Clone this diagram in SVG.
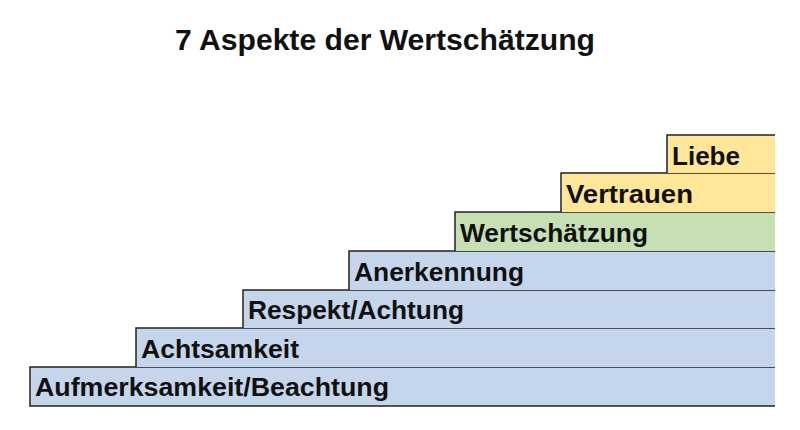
<svg xmlns="http://www.w3.org/2000/svg" width="800" height="430" viewBox="0 0 800 430">
<style>
.b{stroke:#222;stroke-width:1.5;fill:none}
.y{fill:#FFE699}.g{fill:#C6E0B4}.u{fill:#C5D6EC}
text{font-family:"Liberation Sans",Arial,sans-serif;font-weight:bold;fill:#111}
.l{font-size:25px}
</style>
<rect width="800" height="430" fill="#fff"/>
<text x="385" y="50" text-anchor="middle" font-size="30" textLength="420" lengthAdjust="spacingAndGlyphs">7 Aspekte der Wertschätzung</text>
<g id="n1"><rect class="u" x="30" y="367" width="745" height="39"/><path class="b" d="M775 367H30V406H775"/><text class="l" x="35" y="396" textLength="354" lengthAdjust="spacingAndGlyphs">Aufmerksamkeit/Beachtung</text></g>
<g id="n2"><rect class="u" x="136" y="328" width="639" height="39"/><path class="b" d="M775 328H136V367"/><text class="l" x="141" y="358" textLength="158" lengthAdjust="spacingAndGlyphs">Achtsamkeit</text></g>
<g id="n3"><rect class="u" x="243" y="290" width="532" height="38"/><path class="b" d="M775 290H243V328"/><text class="l" x="248" y="319" textLength="216" lengthAdjust="spacingAndGlyphs">Respekt/Achtung</text></g>
<g id="n4"><rect class="u" x="349" y="251" width="426" height="39"/><path class="b" d="M775 251H349V290"/><text class="l" x="354" y="281" textLength="170" lengthAdjust="spacingAndGlyphs">Anerkennung</text></g>
<g id="n5"><rect class="g" x="455" y="212" width="320" height="39"/><path class="b" d="M775 212H455V251"/><text class="l" x="460" y="242" textLength="188" lengthAdjust="spacingAndGlyphs">Wertschätzung</text></g>
<g id="n6"><rect class="y" x="561" y="173" width="214" height="39"/><path class="b" d="M775 173H561V212"/><text class="l" x="566" y="203" textLength="127" lengthAdjust="spacingAndGlyphs">Vertrauen</text></g>
<g id="n7"><rect class="y" x="667" y="135" width="108" height="38"/><path class="b" d="M775 135H667V173"/><text class="l" x="672" y="165" textLength="68" lengthAdjust="spacingAndGlyphs">Liebe</text></g>
<g id="connectors"/>
</svg>
